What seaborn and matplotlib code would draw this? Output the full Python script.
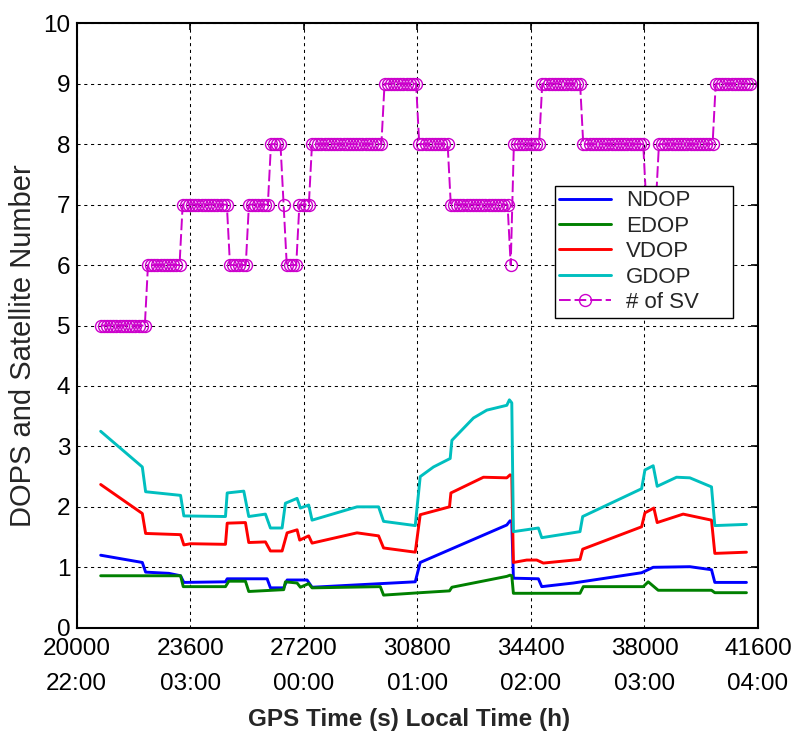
import numpy as np
import matplotlib
matplotlib.use("Agg")
import matplotlib.pyplot as plt
import seaborn as sns

# ---- axis ticks -------------------------------------------------------
x_ticks = [20000, 23600, 27200, 30800, 34400, 38000, 41600]
local_labels = ["22:00", "03:00", "00:00", "01:00", "02:00", "03:00", "04:00"]
y_ticks = list(range(0, 11))

# ---- dilution of precision (breakpoints: GPS time s, value) -----------
ndop_t = [20760, 22080, 22185, 22923, 23293, 23397, 24717, 24771, 26037, 26142,
          26563, 26671, 27304, 27462, 30733, 30891, 33636, 33740, 33794, 33845,
          34637, 34744, 35745, 37910, 38277, 39440, 40126, 40231, 41234]
ndop_v = [1.20, 1.08, 0.92, 0.90, 0.86, 0.75, 0.76, 0.81, 0.81, 0.66,
          0.66, 0.79, 0.79, 0.67, 0.76, 1.08, 1.70, 1.77, 1.75, 0.82,
          0.81, 0.68, 0.74, 0.91, 1.00, 1.01, 0.96, 0.75, 0.75]

edop_t = [20760, 23293, 23378, 24717, 24822, 25350, 25455, 26563, 26617, 26987,
          27092, 27355, 27462, 29625, 29729, 30891, 31819, 31895, 33636, 33740,
          33794, 33845, 35957, 36061, 37963, 38119, 38436, 40126, 40231, 41234]
edop_v = [0.86, 0.86, 0.68, 0.68, 0.77, 0.77, 0.60, 0.63, 0.76, 0.74,
          0.67, 0.73, 0.66, 0.68, 0.54, 0.58, 0.61, 0.67, 0.85, 0.87,
          0.86, 0.57, 0.57, 0.68, 0.68, 0.76, 0.62, 0.62, 0.58, 0.58]

vdop_t = [20760, 22080, 22185, 23293, 23397, 23609, 24717, 24771, 25350, 25455,
          25984, 26142, 26512, 26671, 26987, 27070, 27355, 27462, 28887, 29571,
          29729, 30733, 30891, 31819, 31864, 32895, 33636, 33740, 33794, 33845,
          34269, 34586, 34795, 35957, 36042, 37910, 38015, 38299, 38404, 39227,
          40126, 40231, 41234]
vdop_v = [2.37, 1.89, 1.56, 1.54, 1.37, 1.39, 1.38, 1.73, 1.74, 1.41,
          1.42, 1.27, 1.27, 1.57, 1.62, 1.45, 1.52, 1.40, 1.57, 1.52,
          1.32, 1.25, 1.87, 2.00, 2.23, 2.49, 2.48, 2.53, 2.51, 1.08,
          1.12, 1.12, 1.07, 1.13, 1.30, 1.67, 1.90, 1.98, 1.74, 1.88,
          1.78, 1.23, 1.25]

gdop_t = [20760, 22080, 22185, 23293, 23397, 24717, 24771, 25297, 25455, 25984,
          26142, 26512, 26617, 26987, 27092, 27355, 27462, 28887, 29571, 29729,
          30733, 30891, 31312, 31841, 31895, 32579, 33003, 33636, 33718, 33794,
          33845, 34637, 34744, 35957, 36042, 37910, 38015, 38277, 38404, 39018,
          39440, 40126, 40231, 41234]
gdop_v = [3.25, 2.66, 2.25, 2.19, 1.85, 1.84, 2.23, 2.26, 1.84, 1.88,
          1.65, 1.65, 2.06, 2.14, 1.98, 2.03, 1.78, 2.00, 2.00, 1.76,
          1.69, 2.50, 2.66, 2.80, 3.10, 3.47, 3.60, 3.68, 3.77, 3.72,
          1.59, 1.65, 1.49, 1.59, 1.84, 2.30, 2.61, 2.68, 2.34, 2.49,
          2.48, 2.33, 1.69, 1.71]

# ---- number of satellites in view (level changes) ---------------------
sv_change_t = [20760, 22185, 23356, 24781, 25446, 26142, 26510, 26610, 27038,
               27408, 29720, 30828, 31841, 33710, 33810, 34690, 36020, 38015,
               38394, 40167]
sv_levels = [5, 6, 7, 6, 7, 8, 7, 6, 7, 8, 9, 8, 7, 6, 8, 9, 8, 7, 8, 9]
sv_end_t = 41402
sv_epoch = 100  # seconds between plotted epochs

sv_t = np.arange(sv_change_t[0], sv_end_t, sv_epoch)
sv_v = np.asarray(sv_levels)[np.searchsorted(sv_change_t, sv_t, side="right") - 1]

# ---- styling ----------------------------------------------------------
sns.set_style("white")
plt.rcParams["font.family"] = ["Liberation Sans", "DejaVu Sans"]

colors = {"NDOP": "#0000FF", "EDOP": "#008000", "VDOP": "#FF0000",
          "GDOP": "#00BFBF", "# of SV": "#CC00CC"}

W, H = 795, 733
fig = plt.figure(figsize=(W / 100, H / 100), dpi=100)
ax = fig.add_axes([76.7 / W, 1 - 627.75 / H, (758 - 76.7) / W, (627.75 - 23.25) / H])

for name, t, v in [("NDOP", ndop_t, ndop_v), ("EDOP", edop_t, edop_v),
                   ("VDOP", vdop_t, vdop_v), ("GDOP", gdop_t, gdop_v)]:
    sns.lineplot(x=t, y=v, ax=ax, color=colors[name], linewidth=2.1,
                 estimator=None, sort=False, label=name)

sns.lineplot(x=sv_t, y=sv_v, ax=ax, color=colors["# of SV"], linewidth=1.4,
             linestyle=(0, (6, 2)), marker="o", markersize=8.6,
             markerfacecolor="none", markeredgecolor=colors["# of SV"],
             markeredgewidth=1.0, estimator=None, sort=False, label="# of SV")

ax.set_xlim(x_ticks[0], x_ticks[-1])
ax.set_ylim(0, 10)
ax.set_xticks(x_ticks)
ax.set_xticklabels([str(t) for t in x_ticks])
ax.set_yticks(y_ticks)
ax.set_yticklabels([str(t) for t in y_ticks])

ax.set_axisbelow(True)
ax.grid(True, color="black", linestyle=(0, (3, 3.5)), linewidth=0.75)
for s in ax.spines.values():
    s.set_visible(True)
    s.set_color("black")
    s.set_linewidth(1.5)

ax.tick_params(axis="both", direction="in", length=5, width=1.2,
               top=True, right=True, labelsize=17.5, colors="black")
ax.tick_params(axis="x", pad=7.5)
ax.tick_params(axis="y", pad=4.5)

# second row of labels: local time
sec = ax.secondary_xaxis("bottom")
sec.set_xticks(x_ticks)
sec.set_xticklabels(local_labels)
sec.tick_params(length=0, pad=32.5, labelsize=17.5, colors="black")
sec.spines["bottom"].set_visible(False)

ax.set_xlabel("GPS Time (s) Local Time (h)", fontsize=17.5, fontweight="bold")
ax.xaxis.set_label_coords(0.488, -0.132)
ax.set_ylabel("DOPS and Satellite Number", fontsize=21)
ax.yaxis.set_label_coords(-0.058, 0.467)

handles, labels = ax.get_legend_handles_labels()
leg = ax.legend(handles, labels, loc="upper left",
                bbox_to_anchor=(0.702, 0.5, 0.261, 0.231), mode="expand",
                borderaxespad=0, fontsize=16, frameon=True, fancybox=False,
                shadow=False, framealpha=1, edgecolor="black",
                handlelength=2.3, handletextpad=0.7, labelspacing=0.2,
                borderpad=0.2)
leg.get_frame().set_linewidth(1.0)

fig.savefig("out.png", dpi=100)
